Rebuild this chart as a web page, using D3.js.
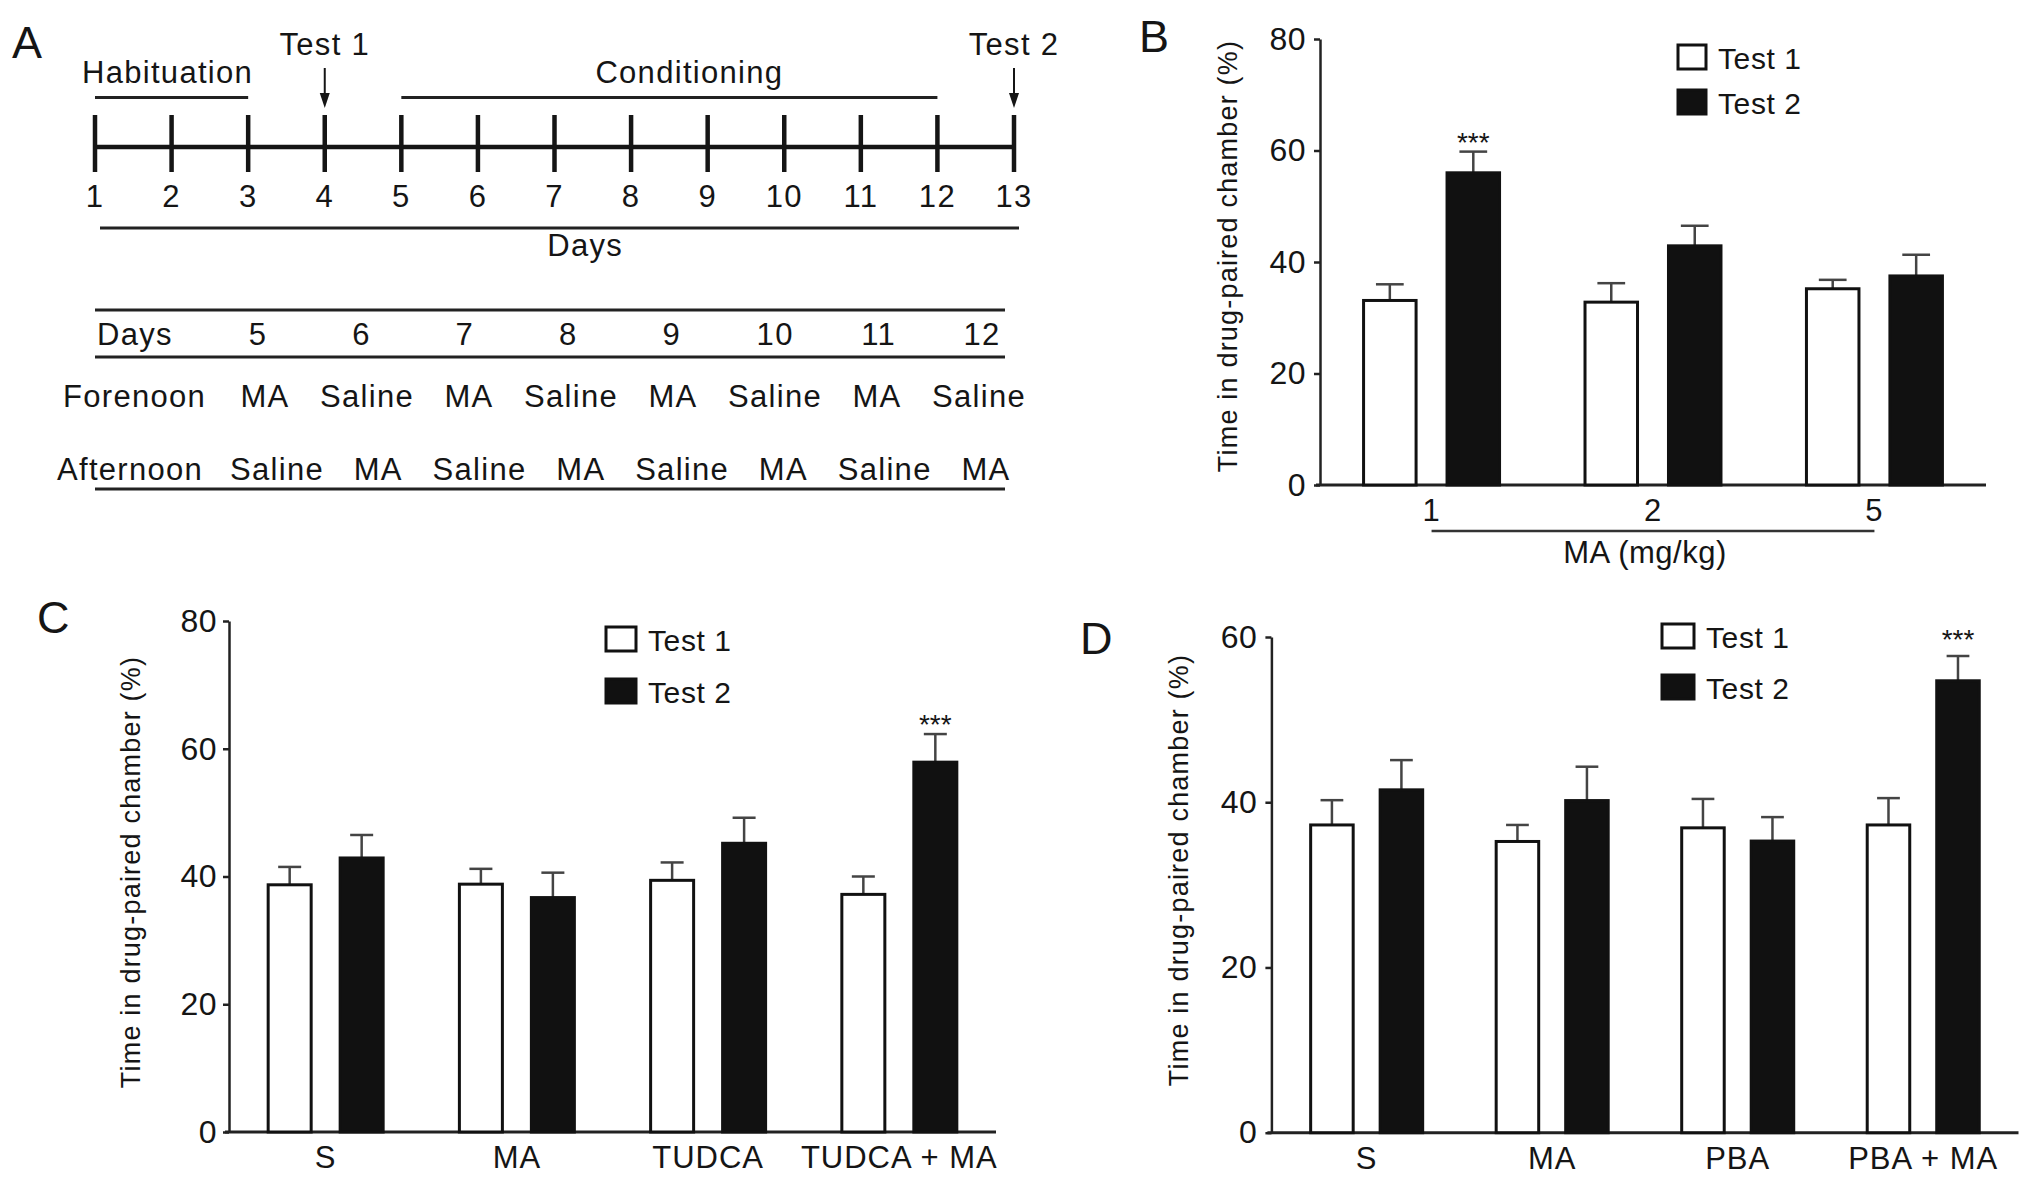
<!DOCTYPE html>
<html>
<head>
<meta charset="utf-8">
<script src="https://cdn.jsdelivr.net/npm/d3@7"></script>
<style>
  html, body { margin: 0; padding: 0; background: #fff; }
  svg { display: block; }
  text { font-family: "Liberation Sans", Arial, Helvetica, sans-serif; fill: #151515; }
</style>
</head>
<body>
<script>
// ---------------- DATA ----------------
// Panel A: timeline
const timelineDays = [1, 2, 3, 4, 5, 6, 7, 8, 9, 10, 11, 12, 13];
const phaseLabels = ["Habituation", "Conditioning"];
const phaseStart = [1, 5];
const phaseEnd = [3, 12];
const testLabels = ["Test 1", "Test 2"];
const testDays = [4, 13];
const scheduleDays = ["5", "6", "7", "8", "9", "10", "11", "12"];
const forenoon = ["MA", "Saline", "MA", "Saline", "MA", "Saline", "MA", "Saline"];
const afternoon = ["Saline", "MA", "Saline", "MA", "Saline", "MA", "Saline", "MA"];
const scheduleRowLabels = ["Days", "Forenoon", "Afternoon"];

// Series
const seriesNames = ["Test 1", "Test 2"];

// Panel B
const bGroups = ["1", "2", "5"];
const bTest1 = [33.1, 32.8, 35.2];
const bTest1Err = [2.9, 3.4, 1.6];
const bTest2 = [56.0, 42.9, 37.5];
const bTest2Err = [3.8, 3.6, 3.8];
const bSig = ["***", "", ""];
const bTicks = [0, 20, 40, 60, 80];

// Panel C
const cGroups = ["S", "MA", "TUDCA", "TUDCA + MA"];
const cTest1 = [38.7, 38.8, 39.4, 37.2];
const cTest1Err = [2.8, 2.4, 2.8, 2.8];
const cTest2 = [42.9, 36.7, 45.2, 57.9];
const cTest2Err = [3.6, 3.9, 4.0, 4.4];
const cSig = ["", "", "", "***"];
const cTicks = [0, 20, 40, 60, 80];

// Panel D
const dGroups = ["S", "MA", "PBA", "PBA + MA"];
const dTest1 = [37.25, 35.25, 36.9, 37.25];
const dTest1Err = [3.0, 2.0, 3.5, 3.25];
const dTest2 = [41.5, 40.2, 35.3, 54.7];
const dTest2Err = [3.6, 4.1, 2.9, 3.0];
const dSig = ["", "", "", "***"];
const dTicks = [0, 20, 40, 60];

const yTitle = "Time in drug-paired chamber (%)";

// ---------------- DRAW ----------------
const W = 2031, H = 1180;
const INK = "#151515";
const svg = d3.select("body").append("svg").attr("width", W).attr("height", H);

function panelLetter(t, x, y) {
  svg.append("text").attr("x", x).attr("y", y).text(t)
    .style("font-size", "45px");
}

// ---------- Panel A ----------
(function () {
  panelLetter("A", 12, 58);
  const g = svg.append("g");
  const x = d3.scaleLinear().domain([1, 13]).range([95, 1014]);
  const txt = (sel) => sel.style("font-size", "31px").style("letter-spacing", "1.3px");

  // main line
  g.append("line").attr("x1", x(1)).attr("x2", x(13)).attr("y1", 147).attr("y2", 147)
    .attr("stroke", INK).attr("stroke-width", 4.5);
  g.selectAll(".tk").data(timelineDays).join("line")
    .attr("x1", d => x(d)).attr("x2", d => x(d)).attr("y1", 115).attr("y2", 172)
    .attr("stroke", INK).attr("stroke-width", 4.5);
  g.selectAll(".tl").data(timelineDays).join("text")
    .attr("x", d => x(d)).attr("y", 207).attr("text-anchor", "middle").text(d => d)
    .call(txt);

  // phases
  phaseLabels.forEach((p, i) => {
    g.append("line").attr("x1", x(phaseStart[i])).attr("x2", x(phaseEnd[i]))
      .attr("y1", 97.5).attr("y2", 97.5).attr("stroke", "#222").attr("stroke-width", 3);
    const mid = (x(phaseStart[i]) + x(phaseEnd[i])) / 2 + (i === 1 ? 20 : -4);
    g.append("text").attr("x", mid).attr("y", 83).attr("text-anchor", "middle").text(p).call(txt);
  });

  // tests with arrows
  testLabels.forEach((t, i) => {
    const cx = x(testDays[i]);
    g.append("text").attr("x", cx).attr("y", 55).attr("text-anchor", "middle").text(t).call(txt);
    g.append("line").attr("x1", cx).attr("x2", cx).attr("y1", 68).attr("y2", 96)
      .attr("stroke", INK).attr("stroke-width", 2);
    g.append("path").attr("d", `M${cx - 5},93 L${cx + 5},93 L${cx},108 Z`).attr("fill", INK);
  });

  // days line + label
  g.append("line").attr("x1", x(1) + 5).attr("x2", x(13) + 5).attr("y1", 228).attr("y2", 228)
    .attr("stroke", "#222").attr("stroke-width", 3);
  g.append("text").attr("x", x(7.4)).attr("y", 256).attr("text-anchor", "middle").text("Days").call(txt);

  // schedule table
  [310, 357, 489].forEach(yy => {
    g.append("line").attr("x1", 95).attr("x2", 1005).attr("y1", yy).attr("y2", yy)
      .attr("stroke", "#222").attr("stroke-width", 3);
  });
  const rows = [scheduleDays, forenoon, afternoon];
  const rowY = [345, 407, 480];
  const rowX = [97, 63, 57];
  const rowRange = [[258, 982], [265, 979], [277, 986]];
  rows.forEach((row, r) => {
    const sx = d3.scalePoint().domain(d3.range(row.length)).range(rowRange[r]);
    g.append("text").attr("x", rowX[r]).attr("y", rowY[r]).text(scheduleRowLabels[r]).call(txt);
    g.selectAll(".r" + r).data(row).join("text")
      .attr("x", (d, i) => sx(i)).attr("y", rowY[r]).attr("text-anchor", "middle")
      .text(d => d).call(txt);
  });
})();

// ---------- Bar panels ----------
function barPanel(cfg) {
  const g = svg.append("g");
  const y = d3.scaleLinear().domain([0, cfg.yMax]).range([cfg.bottom, cfg.top]);
  const x0 = d3.scaleBand().domain(cfg.groups).range([cfg.left, cfg.right])
    .paddingInner(cfg.padInner).paddingOuter(cfg.padOuter);
  const x1 = d3.scaleBand().domain(seriesNames).range([0, x0.bandwidth()])
    .paddingInner(cfg.subPad).paddingOuter(0);

  // y axis
  const ax = g.append("g").attr("transform", `translate(${cfg.left},0)`)
    .call(d3.axisLeft(y).tickValues(cfg.ticks).tickSize(6).tickSizeOuter(0).tickPadding(cfg.tickPad));
  ax.select(".domain").attr("stroke", "#222").attr("stroke-width", 2.5);
  ax.selectAll(".tick line").attr("stroke", "#222").attr("stroke-width", 2.5);
  ax.selectAll(".tick text").style("font-size", "32px").style("letter-spacing", "0.5px")
    .style("font-family", "'Liberation Sans', Arial, sans-serif").attr("fill", INK);

  // x axis line
  g.append("line").attr("x1", cfg.left - 4).attr("x2", cfg.right).attr("y1", y(0)).attr("y2", y(0))
    .attr("stroke", "#222").attr("stroke-width", 3);

  const series = [
    { name: seriesNames[0], vals: cfg.t1, errs: cfg.t1e, fill: "#ffffff", sig: null },
    { name: seriesNames[1], vals: cfg.t2, errs: cfg.t2e, fill: "#111111", sig: cfg.sig }
  ];
  const bw = x1.bandwidth();
  series.forEach(s => {
    cfg.groups.forEach((grp, i) => {
      const bx = x0(grp) + x1(s.name);
      const cx = bx + bw / 2;
      const top = y(s.vals[i]);
      const et = y(s.vals[i] + s.errs[i]);
      // error bar (upper only)
      g.append("line").attr("x1", cx).attr("x2", cx).attr("y1", top).attr("y2", et)
        .attr("stroke", "#444").attr("stroke-width", 2.5);
      g.append("line").attr("x1", cx - bw * 0.25).attr("x2", cx + bw * 0.25).attr("y1", et).attr("y2", et)
        .attr("stroke", "#444").attr("stroke-width", 2.5);
      g.append("rect").attr("x", bx + 1.5).attr("y", top).attr("width", bw - 3)
        .attr("height", y(0) - top).attr("fill", s.fill).attr("stroke", "#111").attr("stroke-width", 3);
      if (s.sig && s.sig[i]) {
        g.append("text").attr("x", cx).attr("y", et + cfg.sigDy).attr("text-anchor", "middle")
          .text(s.sig[i]).style("font-size", "28px");
      }
    });
  });

  // x labels
  g.selectAll(".xl").data(cfg.groups).join("text")
    .attr("x", d => x0(d) + x0.bandwidth() / 2).attr("y", y(0) + 36).attr("text-anchor", "middle")
    .text(d => d).style("font-size", "31px").style("letter-spacing", "1px");

  // y title
  g.append("text").attr("transform", `translate(${cfg.titleX},${cfg.titleY}) rotate(-90)`)
    .attr("text-anchor", "middle").attr("dy", "0.35em").text(yTitle)
    .style("font-size", "27px").style("letter-spacing", "1.2px").attr("fill", "#222");

  // legend
  series.forEach((s, i) => {
    const ly = cfg.legY + i * cfg.legStep;
    g.append("rect").attr("x", cfg.legX).attr("y", ly).attr("width", cfg.legW).attr("height", 24)
      .attr("fill", s.fill).attr("stroke", "#111").attr("stroke-width", 3);
    g.append("text").attr("x", cfg.legX + cfg.legW + 12).attr("y", ly + 24).text(s.name)
      .style("font-size", "30px").style("letter-spacing", "0.6px");
  });

  panelLetter(cfg.letter, cfg.letterX, cfg.letterY);
  return { g, x0, y };
}

// Panel B
const pb = barPanel({
  letter: "B", letterX: 1139, letterY: 52,
  groups: bGroups, t1: bTest1, t1e: bTest1Err, t2: bTest2, t2e: bTest2Err, sig: bSig,
  yMax: 80, ticks: bTicks, top: 39, bottom: 485, left: 1320, right: 1986,
  padInner: 0.3724, padOuter: 0.19, subPad: 0.335, tickPad: 8, sigDy: 0,
  titleX: 1228, titleY: 256, legX: 1678, legY: 45, legStep: 45, legW: 28
});
// MA (mg/kg) bracket
(function () {
  const c1 = pb.x0(bGroups[0]) + pb.x0.bandwidth() / 2;
  const c3 = pb.x0(bGroups[bGroups.length - 1]) + pb.x0.bandwidth() / 2;
  pb.g.append("line").attr("x1", c1).attr("x2", c3).attr("y1", 531).attr("y2", 531)
    .attr("stroke", "#333").attr("stroke-width", 2.5);
  pb.g.append("text").attr("x", (c1 + c3) / 2 - 8).attr("y", 563).attr("text-anchor", "middle")
    .text("MA (mg/kg)").style("font-size", "31px").style("letter-spacing", "0.5px");
})();

// Panel C
barPanel({
  letter: "C", letterX: 37, letterY: 633,
  groups: cGroups, t1: cTest1, t1e: cTest1Err, t2: cTest2, t2e: cTest2Err, sig: cSig,
  yMax: 80, ticks: cTicks, top: 621, bottom: 1132, left: 229, right: 996,
  padInner: 0.383, padOuter: 0.197, subPad: 0.361, tickPad: 6, sigDy: 0,
  titleX: 131, titleY: 872, legX: 606, legY: 627, legStep: 52, legW: 30
});

// Panel D
barPanel({
  letter: "D", letterX: 1080, letterY: 654,
  groups: dGroups, t1: dTest1, t1e: dTest1Err, t2: dTest2, t2e: dTest2Err, sig: dSig,
  yMax: 60, ticks: dTicks, top: 637, bottom: 1132.7, left: 1271.4, right: 2018.5,
  padInner: 0.38, padOuter: 0.2035, subPad: 0.345, tickPad: 8, sigDy: -7,
  titleX: 1179, titleY: 870, legX: 1662, legY: 624, legStep: 51, legW: 32
});
</script>
</body>
</html>
